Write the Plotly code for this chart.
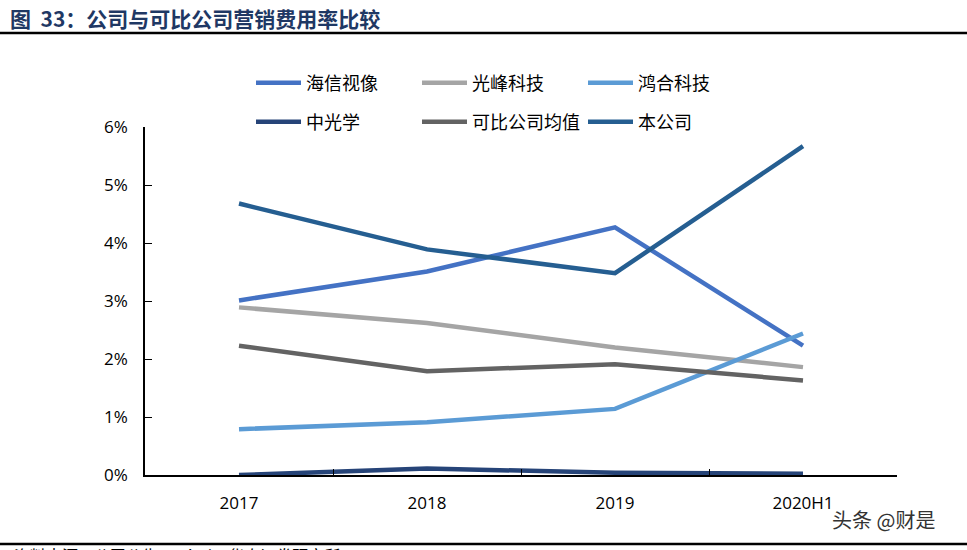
import plotly.graph_objects as go

categories = ["2017", "2018", "2019", "2020H1"]
series_names = ["海信视像", "光峰科技", "鸿合科技", "中光学", "可比公司均值", "本公司"]
hisense = [3.01, 3.51, 4.27, 2.23]
appotronics = [2.89, 2.62, 2.20, 1.86]
honghe = [0.79, 0.91, 1.14, 2.44]
zhongguangxue = [0.0, 0.11, 0.04, 0.02]
peer_avg = [2.23, 1.79, 1.91, 1.63]
company = [4.68, 3.89, 3.48, 5.67]
y_ticks = [0, 1, 2, 3, 4, 5, 6]
y_tick_labels = ["0%", "1%", "2%", "3%", "4%", "5%", "6%"]

colors = ["#4472C4", "#A5A5A5", "#5B9BD5", "#264478", "#636363", "#255E91"]
values = [hisense, appotronics, honghe, zhongguangxue, peer_avg, company]
legend_ids = ["legend", "legend", "legend", "legend2", "legend2", "legend2"]

font_cn = "Noto Sans CJK SC"
L, R, T, B = 145, 70, 127, 75
PW, PH = 967 - L - R, 550 - T - B


def px_x(x):
    return (x - L) / PW


def px_y(y):
    return (550 - B - y) / PH


fig = go.Figure()
for name, vals, col, lg in zip(series_names, values, colors, legend_ids):
    fig.add_trace(go.Scatter(
        x=categories, y=vals, name=name, mode="lines",
        line=dict(color=col, width=4.5), cliponaxis=False, legend=lg,
    ))

legend_common = dict(
    orientation="h", xanchor="left", yanchor="middle",
    entrywidth=106, entrywidthmode="pixels",
    font=dict(family=font_cn, size=18, color="#000000"),
    itemwidth=45, traceorder="normal", bgcolor="rgba(0,0,0,0)",
)

fig.update_layout(
    width=967, height=550,
    margin=dict(l=L, r=R, t=T, b=B, autoexpand=False),
    paper_bgcolor="white", plot_bgcolor="white",
    showlegend=True,
    legend=dict(x=px_x(251), y=px_y(83), **legend_common),
    legend2=dict(x=px_x(251), y=px_y(122), **legend_common),
    xaxis=dict(
        type="category", categoryorder="array", categoryarray=categories,
        showline=True, linecolor="#000000", linewidth=1.5,
        ticks="inside", tickson="boundaries", ticklen=6, tickcolor="#000000",
        showgrid=False, zeroline=False,
        tickfont=dict(family="Open Sans, Liberation Sans", size=17, color="#000000"),
        ticklabelstandoff=12,
        range=[-0.5, 3.5],
    ),
    yaxis=dict(
        range=[0, 6], tickvals=y_ticks, ticktext=y_tick_labels,
        showline=True, linecolor="#000000", linewidth=1.5,
        ticks="inside", ticklen=7, tickcolor="#000000",
        showgrid=False, zeroline=False,
        tickfont=dict(family="Open Sans, Liberation Sans", size=17, color="#000000"),
        ticklabelstandoff=12,
    ),
)

# Title
fig.add_annotation(
    xref="paper", yref="paper", x=px_x(8), y=px_y(18),
    xanchor="left", yanchor="middle", showarrow=False,
    text="<b>图  33：公司与可比公司营销费用率比较</b>",
    font=dict(family=font_cn, size=21, color="#1F3864"),
)
# Header rule and footer rule
fig.add_shape(type="line", xref="paper", yref="paper",
              x0=px_x(0), x1=px_x(967), y0=px_y(33), y1=px_y(33),
              line=dict(color="#000000", width=2.5))
fig.add_shape(type="line", xref="paper", yref="paper",
              x0=px_x(0), x1=px_x(967), y0=px_y(544), y1=px_y(544),
              line=dict(color="#000000", width=2.5))
# Watermark
fig.add_annotation(
    xref="paper", yref="paper", x=px_x(937), y=px_y(519),
    xanchor="right", yanchor="middle", showarrow=False,
    text="头条 @财是",
    font=dict(family=font_cn, size=20, color="#333333"),
)
# Partially visible source line at bottom
fig.add_annotation(
    xref="paper", yref="paper", x=px_x(12), y=px_y(555),
    xanchor="left", yanchor="middle", showarrow=False,
    text="资料来源：公司公告，Wind，华泰证券研究所",
    font=dict(family=font_cn, size=16, color="#000000"),
)

fig.write_html("out.html", config={"displayModeBar": False},
               post_script="document.body.style.margin='0';")
